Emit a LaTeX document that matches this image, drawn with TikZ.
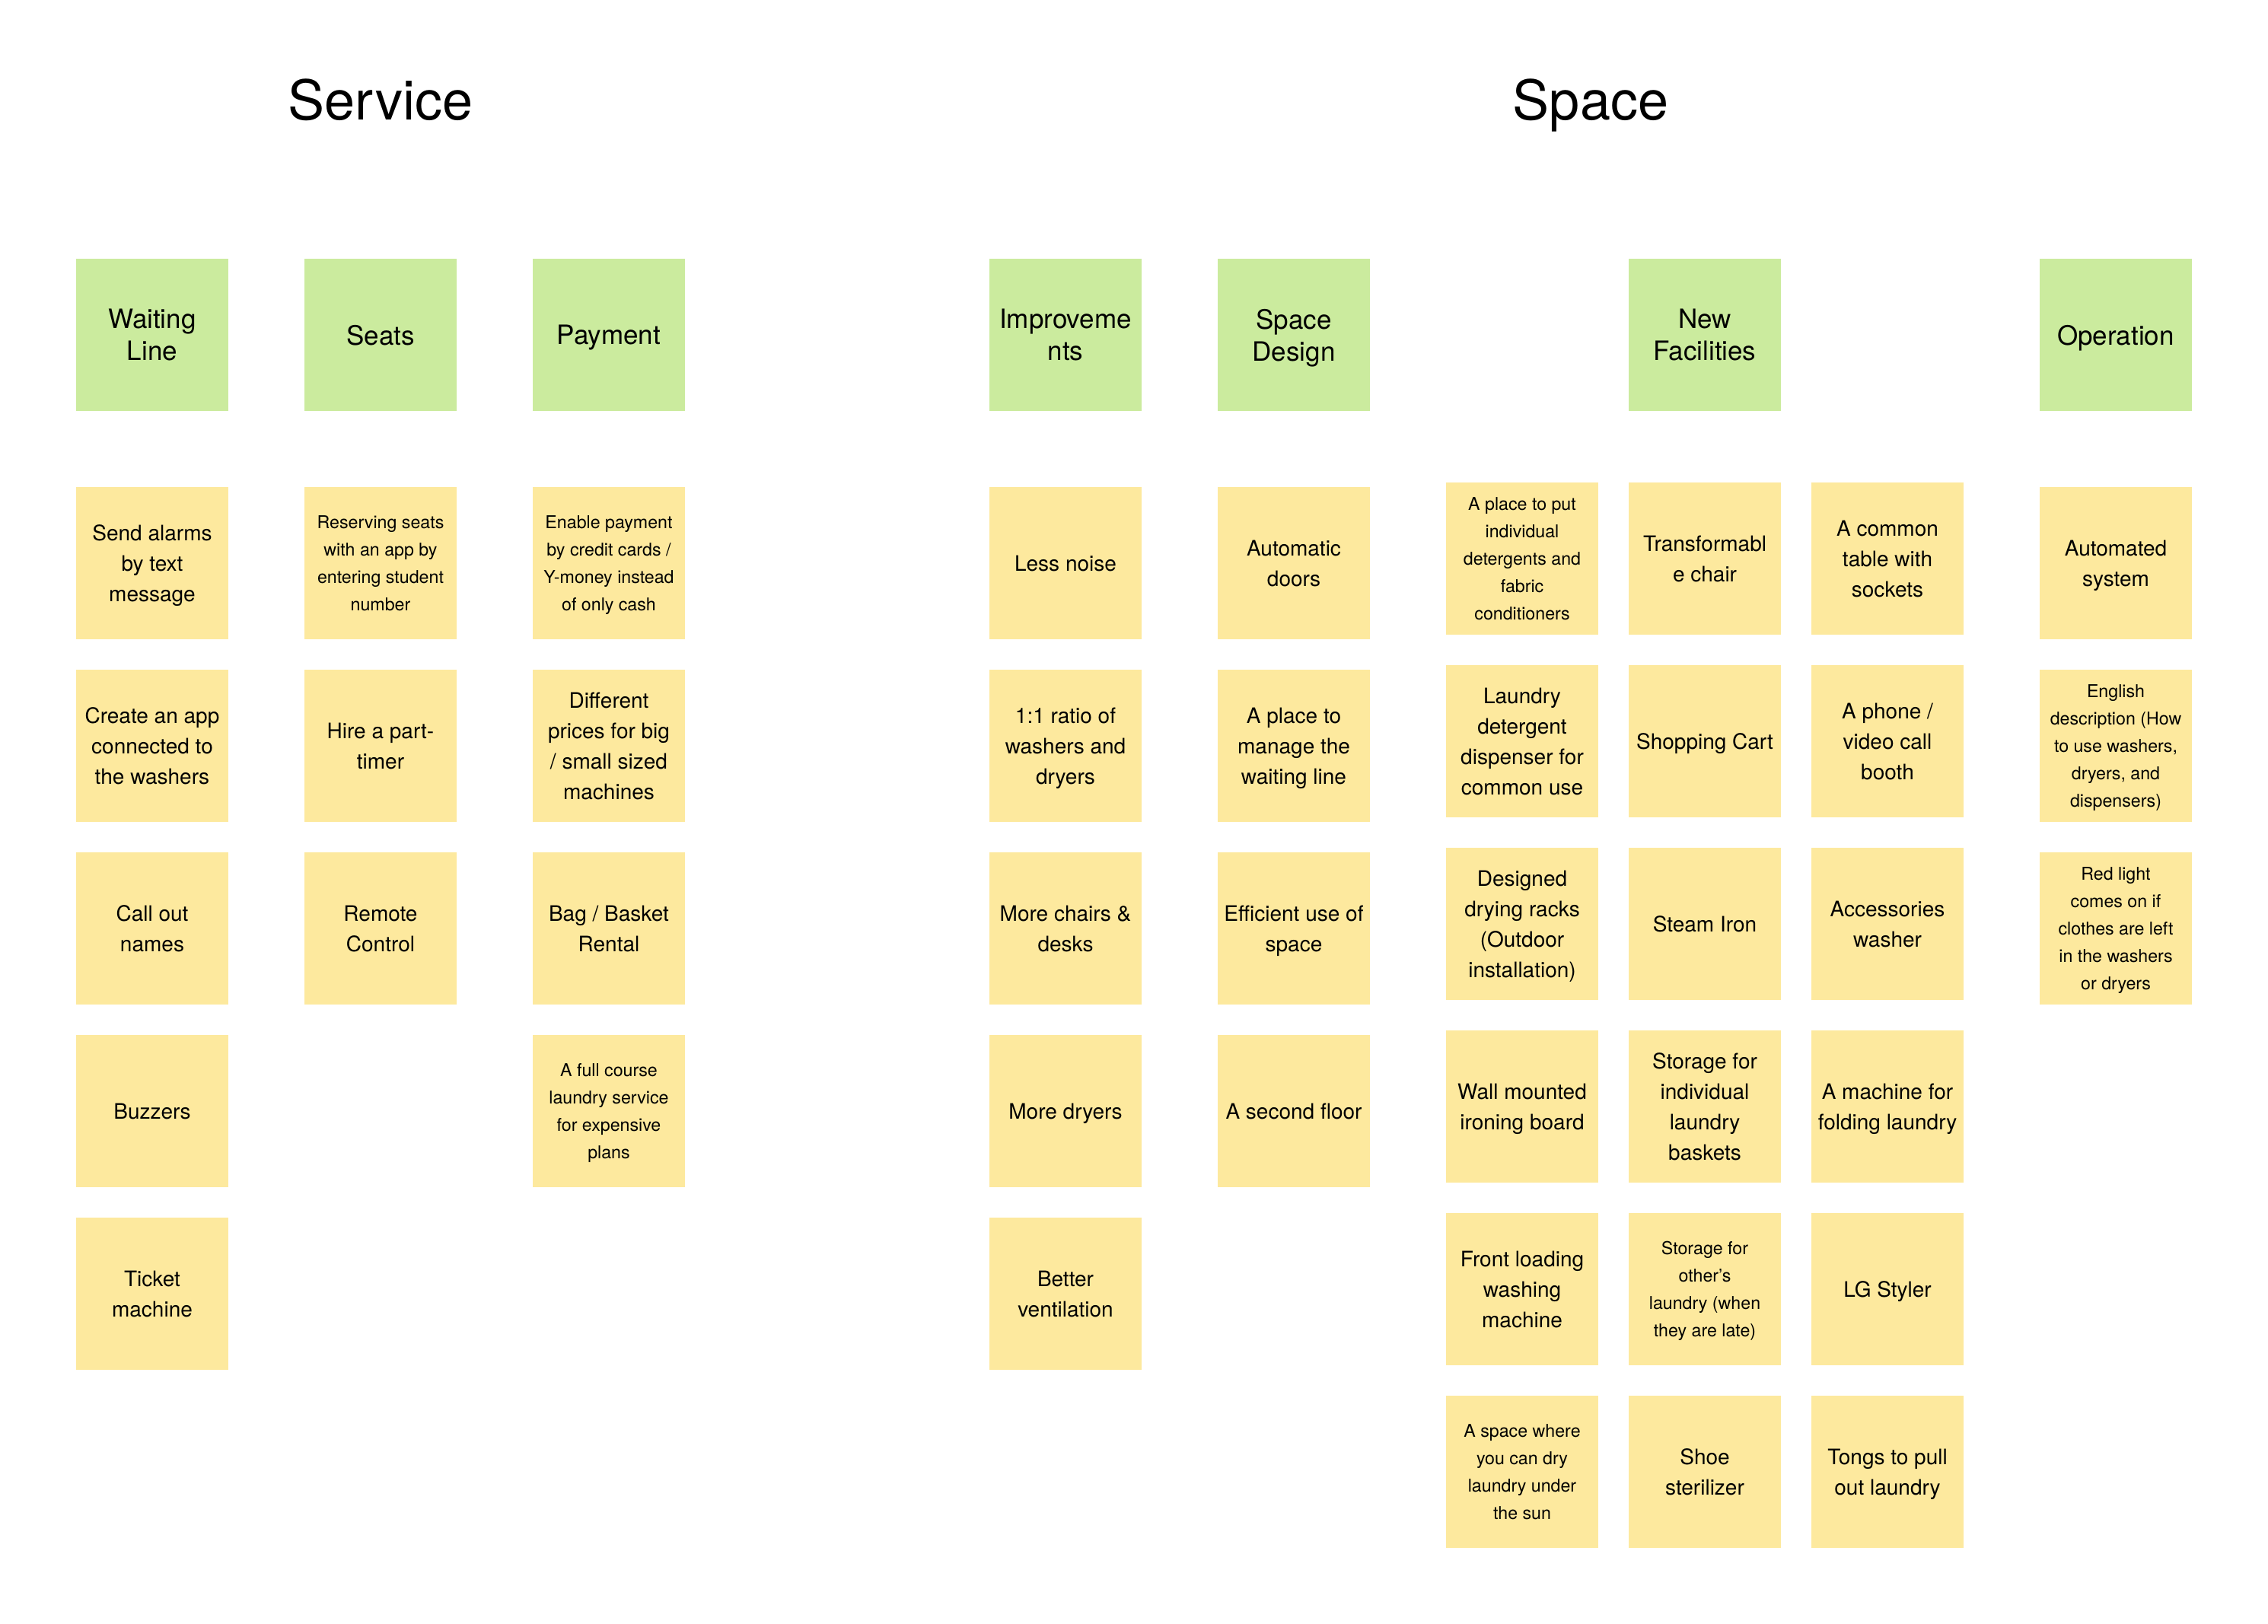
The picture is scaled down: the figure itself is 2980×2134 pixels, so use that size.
\documentclass[tikz,border=0pt]{standalone}
\usepackage{fontspec}
\setmainfont{TeX Gyre Heros}
\definecolor{hdr}{RGB}{203,235,158}
\definecolor{stk}{RGB}{253,233,158}
\tikzset{
  header/.style={fill=hdr, minimum width=100pt, minimum height=100pt, inner sep=0pt, align=center, text depth=0pt, font=\fontsize{17.5}{21}\selectfont},
  note/.style={fill=stk, minimum width=100pt, minimum height=100pt, inner sep=0pt, align=center, text depth=0pt, font=\fontsize{14}{20}\selectfont},
  smallnote/.style={note, font=\fontsize{11.6}{18}\selectfont},
  grouptitle/.style={anchor=base, inner sep=0pt, font=\fontsize{36}{40}\selectfont}
}
\begin{document}
\begin{tikzpicture}[x=0.5pt,y=-0.5pt]
\useasboundingbox (0,0) rectangle (2980,2134);
\fill[white] (0,0) rectangle (2980,2134);
% titles
\node[grouptitle] (tService) at (500,158) {Service};
\node[grouptitle] (tSpace) at (2090,158) {Space};
% headers
\node[header] (hWait) at (200,440) {Waiting\\Line};
\node[header] (hSeats) at (500,440) {Seats};
\node[header] (hPay) at (800,440) {Payment};
\node[header] (hImp) at (1400,440) {Improveme\\nts};
\node[header] (hDesign) at (1700,440) {Space\\Design};
\node[header] (hNew) at (2240,440) {New\\Facilities};
\node[header] (hOp) at (2780,440) {Operation};
% Waiting line
\node[note] (w1) at (200,740) {Send alarms\\by text\\message};
\node[note] (w2) at (200,980) {Create an app\\connected to\\the washers};
\node[note] (w3) at (200,1220) {Call out\\names};
\node[note] (w4) at (200,1460) {Buzzers};
\node[note] (w5) at (200,1700) {Ticket\\machine};
% Seats
\node[smallnote] (s1) at (500,740) {Reserving seats\\with an app by\\entering student\\number};
\node[note] (s2) at (500,980) {Hire a part-\\timer};
\node[note] (s3) at (500,1220) {Remote\\Control};
% Payment
\node[smallnote] (p1) at (800,740) {Enable payment\\by credit cards /\\Y-money instead\\of only cash};
\node[note] (p2) at (800,980) {Different\\prices for big\\/ small sized\\machines};
\node[note] (p3) at (800,1220) {Bag / Basket\\Rental};
\node[smallnote] (p4) at (800,1460) {A full course\\laundry service\\for expensive\\plans};
% Improvements
\node[note] (i1) at (1400,740) {Less noise};
\node[note] (i2) at (1400,980) {1:1 ratio of\\washers and\\dryers};
\node[note] (i3) at (1400,1220) {More chairs \&\\desks};
\node[note] (i4) at (1400,1460) {More dryers};
\node[note] (i5) at (1400,1700) {Better\\ventilation};
% Space design
\node[note] (d1) at (1700,740) {Automatic\\doors};
\node[note] (d2) at (1700,980) {A place to\\manage the\\waiting line};
\node[note] (d3) at (1700,1220) {Efficient use of\\space};
\node[note] (d4) at (1700,1460) {A second floor};
% New facilities col 1
\node[smallnote] (a1) at (2000,734) {A place to put\\individual\\detergents and\\fabric\\conditioners};
\node[note] (a2) at (2000,974) {Laundry\\detergent\\dispenser for\\common use};
\node[note] (a3) at (2000,1214) {Designed\\drying racks\\(Outdoor\\installation)};
\node[note] (a4) at (2000,1454) {Wall mounted\\ironing board};
\node[note] (a5) at (2000,1694) {Front loading\\washing\\machine};
\node[smallnote] (a6) at (2000,1934) {A space where\\you can dry\\laundry under\\the sun};
% New facilities col 2
\node[note] (b1) at (2240,734) {Transformabl\\e chair};
\node[note] (b2) at (2240,974) {Shopping Cart};
\node[note] (b3) at (2240,1214) {Steam Iron};
\node[note] (b4) at (2240,1454) {Storage for\\individual\\laundry\\baskets};
\node[smallnote] (b5) at (2240,1694) {Storage for\\other’s\\laundry (when\\they are late)};
\node[note] (b6) at (2240,1934) {Shoe\\sterilizer};
% New facilities col 3
\node[note] (c1) at (2480,734) {A common\\table with\\sockets};
\node[note] (c2) at (2480,974) {A phone /\\video call\\booth};
\node[note] (c3) at (2480,1214) {Accessories\\washer};
\node[note] (c4) at (2480,1454) {A machine for\\folding laundry};
\node[note] (c5) at (2480,1694) {LG Styler};
\node[note] (c6) at (2480,1934) {Tongs to pull\\out laundry};
% Operation
\node[note] (o1) at (2780,740) {Automated\\system};
\node[smallnote] (o2) at (2780,980) {English\\description (How\\to use washers,\\dryers, and\\dispensers)};
\node[smallnote] (o3) at (2780,1220) {Red light\\comes on if\\clothes are left\\in the washers\\or dryers};
\end{tikzpicture}
\end{document}
